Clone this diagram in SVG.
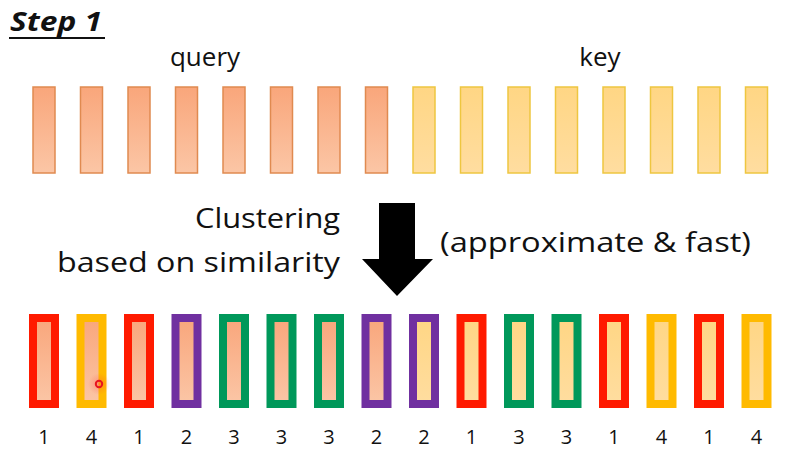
<svg xmlns="http://www.w3.org/2000/svg" width="796" height="461" viewBox="0 0 796 461">
<defs>
<linearGradient id="gq" x1="0" y1="0" x2="0" y2="1"><stop offset="0" stop-color="#F9A67B"/><stop offset="1" stop-color="#FBC6A6"/></linearGradient>
<linearGradient id="gk" x1="0" y1="0" x2="0" y2="1"><stop offset="0" stop-color="#FFD684"/><stop offset="1" stop-color="#FFDDA0"/></linearGradient>
<radialGradient id="glow"><stop offset="0" stop-color="#FF4040" stop-opacity="0.35"/><stop offset="1" stop-color="#FF4040" stop-opacity="0"/></radialGradient>
</defs>
<style>
text{font-family:"Open Sans","Noto Sans","Liberation Sans",sans-serif;fill:#111}
.q{fill:url(#gq);stroke:#E08A50;stroke-width:1.5}
.k{fill:url(#gk);stroke:#EEC640;stroke-width:1.5}
.b{stroke-width:8}
.bq{fill:url(#gq)}
.bk{fill:url(#gk)}
.c1{stroke:#FF1A00}
.c2{stroke:#7030A0}
.c3{stroke:#00985A}
.c4{stroke:#FFBA00}
.n{font-size:20px;text-anchor:middle}
.big{font-size:26px}
</style>
<g id="title">
<text x="10" y="31" style="font-size:27px;font-weight:bold;font-style:italic" textLength="92" lengthAdjust="spacingAndGlyphs">Step 1</text>
<line x1="9" y1="38" x2="105" y2="38" stroke="#111" stroke-width="2"/>
</g>
<g id="labels">
<text x="205" y="66" class="big" text-anchor="middle">query</text>
<text x="600" y="66" class="big" text-anchor="middle">key</text>
<text x="340" y="228" style="font-size:27px" text-anchor="end" textLength="145" lengthAdjust="spacingAndGlyphs">Clustering</text>
<text x="340" y="272" style="font-size:27px" text-anchor="end" textLength="283" lengthAdjust="spacingAndGlyphs">based on similarity</text>
<text x="440" y="252" style="font-size:27px" textLength="311" lengthAdjust="spacingAndGlyphs">(approximate &amp; fast)</text>
</g>
<g id="query">
<rect class="q" x="33" y="87" width="22" height="86"/>
<rect class="q" x="80.5" y="87" width="22" height="86"/>
<rect class="q" x="128" y="87" width="22" height="86"/>
<rect class="q" x="175.5" y="87" width="22" height="86"/>
<rect class="q" x="223" y="87" width="22" height="86"/>
<rect class="q" x="270.5" y="87" width="22" height="86"/>
<rect class="q" x="318" y="87" width="22" height="86"/>
<rect class="q" x="365.5" y="87" width="22" height="86"/>
</g>
<g id="key">
<rect class="k" x="413" y="87" width="22" height="86"/>
<rect class="k" x="460.5" y="87" width="22" height="86"/>
<rect class="k" x="508" y="87" width="22" height="86"/>
<rect class="k" x="555.5" y="87" width="22" height="86"/>
<rect class="k" x="603" y="87" width="22" height="86"/>
<rect class="k" x="650.5" y="87" width="22" height="86"/>
<rect class="k" x="698" y="87" width="22" height="86"/>
<rect class="k" x="745.5" y="87" width="22" height="86"/>
</g>
<g id="connectors">
<polygon points="379,203 415,203 415,259 433,259 397,296 362,259 379,259" fill="#000"/>
</g>
<g id="clusters">
<rect class="b bq c1" x="33" y="318" width="22" height="86"/>
<rect class="b bq c4" x="80.5" y="318" width="22" height="86"/>
<rect class="b bq c1" x="128" y="318" width="22" height="86"/>
<rect class="b bq c2" x="175.5" y="318" width="22" height="86"/>
<rect class="b bq c3" x="223" y="318" width="22" height="86"/>
<rect class="b bq c3" x="270.5" y="318" width="22" height="86"/>
<rect class="b bq c3" x="318" y="318" width="22" height="86"/>
<rect class="b bq c2" x="365.5" y="318" width="22" height="86"/>
<rect class="b bk c2" x="413" y="318" width="22" height="86"/>
<rect class="b bk c1" x="460.5" y="318" width="22" height="86"/>
<rect class="b bk c3" x="508" y="318" width="22" height="86"/>
<rect class="b bk c3" x="555.5" y="318" width="22" height="86"/>
<rect class="b bk c1" x="603" y="318" width="22" height="86"/>
<rect class="b bk c4" x="650.5" y="318" width="22" height="86"/>
<rect class="b bk c1" x="698" y="318" width="22" height="86"/>
<rect class="b bk c4" x="745.5" y="318" width="22" height="86"/>
</g>
<g id="numbers">
<text class="n" x="44" y="444">1</text>
<text class="n" x="91.5" y="444">4</text>
<text class="n" x="139" y="444">1</text>
<text class="n" x="186.5" y="444">2</text>
<text class="n" x="234" y="444">3</text>
<text class="n" x="281.5" y="444">3</text>
<text class="n" x="329" y="444">3</text>
<text class="n" x="376.5" y="444">2</text>
<text class="n" x="424" y="444">2</text>
<text class="n" x="471.5" y="444">1</text>
<text class="n" x="519" y="444">3</text>
<text class="n" x="566.5" y="444">3</text>
<text class="n" x="614" y="444">1</text>
<text class="n" x="661.5" y="444">4</text>
<text class="n" x="709" y="444">1</text>
<text class="n" x="756.5" y="444">4</text>
</g>
<g id="cursor">
<circle cx="99" cy="384" r="11" fill="url(#glow)"/>
<circle cx="99" cy="384" r="3.2" fill="none" stroke="#E8141E" stroke-width="2"/>
</g>
</svg>
